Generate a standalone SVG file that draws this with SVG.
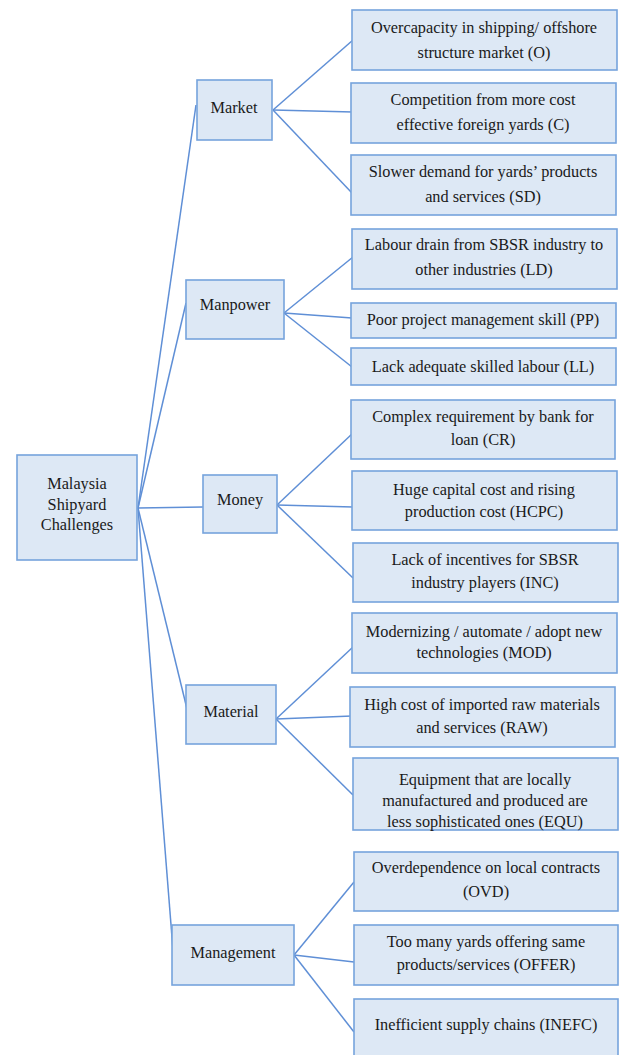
<svg xmlns="http://www.w3.org/2000/svg" width="623" height="1055" viewBox="0 0 623 1055">
<style>
.box{fill:#dde8f5;stroke:#76a3dc;stroke-width:1.6}
text{font-family:"Liberation Serif","Times New Roman",serif;font-size:16.3px;fill:#1a1a1a;text-anchor:middle}
.c{fill:none;stroke:#5f8fd6;stroke-width:1.5}
</style>
<rect width="623" height="1055" fill="#ffffff"/>
<g id="connectors">
<path class="c" d="M138 508 L196 105"/>
<path class="c" d="M138 508 L186 303"/>
<path class="c" d="M138 508 L203 507"/>
<path class="c" d="M138 508 L188 713"/>
<path class="c" d="M138 508 L173 950"/>
<path class="c" d="M273 110 L353 40"/>
<path class="c" d="M273 110 L353 112"/>
<path class="c" d="M273 110 L352 193"/>
<path class="c" d="M284 313 L353 257"/>
<path class="c" d="M284 313 L352 318"/>
<path class="c" d="M284 313 L352 367"/>
<path class="c" d="M277 505 L353 433"/>
<path class="c" d="M277 505 L353 507"/>
<path class="c" d="M277 505 L353 578"/>
<path class="c" d="M276 719 L353 647"/>
<path class="c" d="M276 719 L352 716"/>
<path class="c" d="M276 719 L353 795"/>
<path class="c" d="M294 955 L354 882"/>
<path class="c" d="M294 955 L354 962"/>
<path class="c" d="M294 955 L354 1032"/>
</g>
<g id="root"><rect class="box" x="17" y="455" width="120" height="105"/>
<text x="77" y="489">Malaysia</text><text x="77" y="510">Shipyard</text><text x="77" y="530">Challenges</text></g>
<g id="market"><rect class="box" x="197" y="80" width="75" height="60"/><text x="234" y="113">Market</text></g>
<g id="manpower"><rect class="box" x="186" y="280" width="98" height="59"/><text x="235" y="310">Manpower</text></g>
<g id="money"><rect class="box" x="203" y="475" width="74" height="58"/><text x="240" y="505">Money</text></g>
<g id="material"><rect class="box" x="186" y="685" width="90" height="59"/><text x="231" y="717">Material</text></g>
<g id="management"><rect class="box" x="172" y="925" width="122" height="60"/><text x="233" y="958">Management</text></g>
<g id="o"><rect class="box" x="352" y="10" width="265" height="60"/><text x="484" y="33">Overcapacity in shipping/ offshore</text><text x="484" y="58">structure market (O)</text></g>
<g id="c"><rect class="box" x="351" y="83" width="265" height="60"/><text x="483" y="105">Competition from more cost</text><text x="483" y="130">effective foreign yards (C)</text></g>
<g id="sd"><rect class="box" x="351" y="155" width="265" height="60"/><text x="483" y="177">Slower demand for yards’ products</text><text x="483" y="202">and services (SD)</text></g>
<g id="ld"><rect class="box" x="352" y="229" width="265" height="60"/><text x="484" y="250">Labour drain from SBSR industry to</text><text x="484" y="275">other industries (LD)</text></g>
<g id="pp"><rect class="box" x="351" y="303" width="265" height="35"/><text x="483" y="325">Poor project management skill (PP)</text></g>
<g id="ll"><rect class="box" x="351" y="348" width="265" height="37"/><text x="483" y="372">Lack adequate skilled labour (LL)</text></g>
<g id="cr"><rect class="box" x="351" y="400" width="264" height="59"/><text x="483" y="422">Complex requirement by bank for</text><text x="483" y="445">loan (CR)</text></g>
<g id="hcpc"><rect class="box" x="352" y="471" width="265" height="59"/><text x="484" y="495">Huge capital cost and rising</text><text x="484" y="517">production cost (HCPC)</text></g>
<g id="inc"><rect class="box" x="353" y="543" width="265" height="59"/><text x="485" y="565">Lack of incentives for SBSR</text><text x="485" y="588">industry players (INC)</text></g>
<g id="mod"><rect class="box" x="352" y="613" width="265" height="60"/><text x="484" y="637">Modernizing / automate / adopt new</text><text x="484" y="658">technologies (MOD)</text></g>
<g id="raw"><rect class="box" x="350" y="687" width="265" height="60"/><text x="482" y="710">High cost of imported raw materials</text><text x="482" y="733">and services (RAW)</text></g>
<g id="equ"><rect class="box" x="353" y="758" width="265" height="72"/><text x="485" y="785">Equipment that are locally</text><text x="485" y="806">manufactured and produced are</text><text x="485" y="827">less sophisticated ones (EQU)</text></g>
<g id="ovd"><rect class="box" x="354" y="852" width="264" height="59"/><text x="486" y="873">Overdependence on local contracts</text><text x="486" y="897">(OVD)</text></g>
<g id="offer"><rect class="box" x="354" y="925" width="264" height="60"/><text x="486" y="947">Too many yards offering same</text><text x="486" y="970">products/services (OFFER)</text></g>
<g id="inefc"><rect class="box" x="354" y="999" width="264" height="60"/><text x="486" y="1030">Inefficient supply chains (INEFC)</text></g>
</svg>
